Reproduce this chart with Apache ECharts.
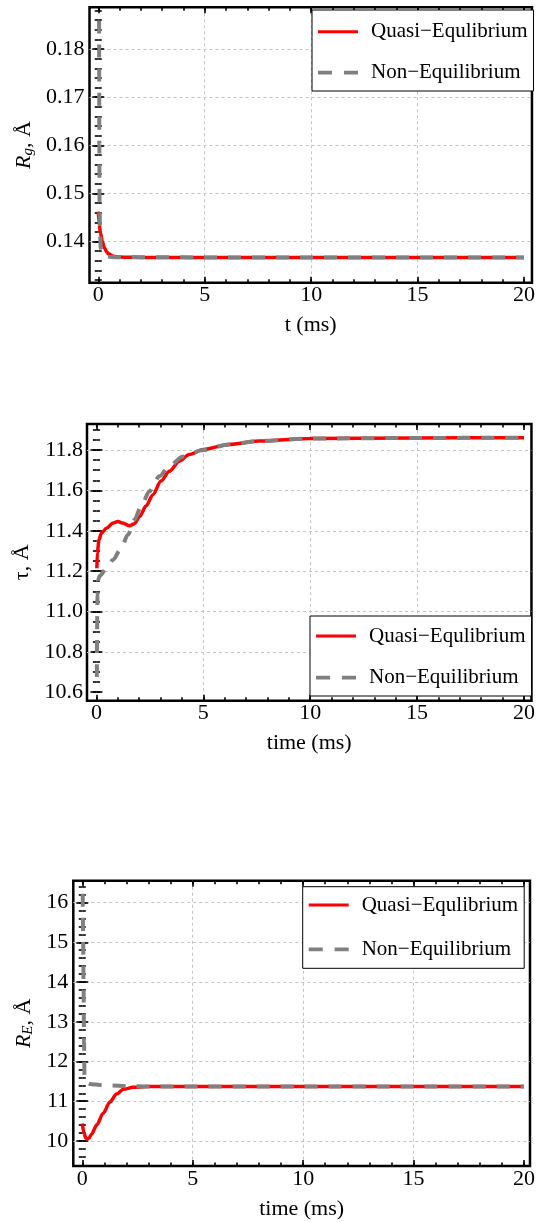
<!DOCTYPE html>
<html><head><meta charset="utf-8">
<script src="https://cdn.jsdelivr.net/npm/echarts@6/dist/echarts.min.js"></script>
<style>html,body{margin:0;padding:0;background:#fff}#c{width:538px;height:1222px}</style>
</head><body><div id="c"></div>
<script>
// ---------------- data ----------------
const xTickLabels = [0, 5, 10, 15, 20];
const xGridLines = [5, 10, 15];
const seriesNames = ['Quasi\u2212Equlibrium', 'Non\u2212Equilibrium'];

// Panel 1 : R_g
const rgQuasiT = [0, 0.05, 0.1, 0.2, 0.3, 0.4, 0.5, 0.7, 1.0, 1.5, 2, 5, 10, 15, 20];
const rgQuasiV = [0.1462, 0.1435, 0.1418, 0.1398, 0.1386, 0.1378, 0.1374, 0.13695, 0.13677, 0.13672, 0.1367, 0.1367, 0.1367, 0.1367, 0.1367];
const rgNonT = [0.04, 0.05, 0.06, 0.08, 0.12, 0.2, 0.35, 0.6, 1.0, 5, 10, 15, 20];
const rgNonV = [0.1859, 0.160, 0.148, 0.1415, 0.1385, 0.1374, 0.13695, 0.13678, 0.13672, 0.1367, 0.1367, 0.1367, 0.1367];
const rgYTicks = [0.14, 0.15, 0.16, 0.17, 0.18];
const rgYGridLines = [0.14, 0.15, 0.16, 0.17, 0.18];

// Panel 2 : tau
const tauQuasiT = [0.02, 0.04, 0.12, 0.23, 0.47, 0.78, 1.0, 1.24, 1.55, 1.78, 2.02, 2.33, 2.64, 3.02, 3.41, 3.88, 4.34, 5.0, 6.2, 7.6, 10, 15, 20];
const tauQuasiV = [11.214, 11.289, 11.355, 11.388, 11.413, 11.438, 11.446, 11.438, 11.425, 11.435, 11.471, 11.524, 11.579, 11.646, 11.695, 11.745, 11.778, 11.803, 11.828, 11.845, 11.857, 11.86, 11.861];
const tauNonT = [0.02, 0.03, 0.05, 0.08, 0.15, 0.47, 0.78, 1.16, 1.47, 1.78, 2.09, 2.48, 2.95, 3.41, 4.03, 5.0, 6.2, 7.6, 10, 15, 20];
const tauNonV = [10.675, 10.9, 11.08, 11.156, 11.176, 11.214, 11.256, 11.314, 11.38, 11.455, 11.521, 11.596, 11.67, 11.72, 11.767, 11.8, 11.828, 11.845, 11.857, 11.86, 11.861];
const tauYTicks = [10.6, 10.8, 11.0, 11.2, 11.4, 11.6, 11.8];
const tauYGridLines = [10.8, 11.0, 11.2, 11.4, 11.6, 11.8];

// Panel 3 : R_E
const reQuasiT = [0, 0.08, 0.15, 0.22, 0.3, 0.42, 0.65, 0.95, 1.25, 1.55, 1.86, 2.3, 2.9, 4, 10, 15, 20];
const reQuasiV = [10.44, 10.2, 10.08, 10.05, 10.07, 10.17, 10.40, 10.70, 10.98, 11.18, 11.30, 11.35, 11.37, 11.37, 11.37, 11.37, 11.37];
const reNonT = [0.02, 0.04, 0.06, 0.08, 0.1, 0.13, 0.2, 0.4, 0.8, 1.3, 2, 3, 10, 15, 20];
const reNonV = [16.22, 15.0, 13.8, 12.5, 11.62, 11.5, 11.46, 11.43, 11.41, 11.395, 11.38, 11.37, 11.37, 11.37, 11.37];
const reYTicks = [10, 11, 12, 13, 14, 15, 16];
const reYGridLines = [10, 11, 12, 13, 14, 15, 16];

// ---------------- helpers ----------------
const FONT = 'Liberation Serif';
function steps(a, b, s) { const o = []; for (let v = a; v <= b + s * 1e-6; v += s) o.push(+v.toFixed(6)); return o; }
function pairs(t, v) { return t.map((x, i) => [x, v[i]]); }

function axesFor(dim, gi, min, max, majors, minors, gridVals, cfg) {
  const isX = dim === 'x';
  const pos1 = isX ? 'bottom' : 'left', pos2 = isX ? 'top' : 'right';
  const base = { type: 'value', gridIndex: gi, min: min, max: max, axisLine: { show: false },
    splitLine: { show: false }, axisLabel: { show: false }, axisTick: { show: false } };
  const tick = (vals, len) => ({ show: true, inside: true, length: len, customValues: vals, lineStyle: { color: '#000', width: 1.6 } });
  const main = Object.assign({}, base, {
    position: pos1,
    axisTick: tick(majors, 6),
    axisLabel: { show: true, customValues: majors, margin: cfg.margin, color: '#000', fontFamily: FONT, fontSize: 22, formatter: cfg.fmt },
    name: cfg.name, nameLocation: 'middle', nameGap: cfg.nameGap, nameRotate: isX ? 0 : 90,
    nameTextStyle: cfg.nameStyle
  });
  return [
    main,
    Object.assign({}, base, { position: pos1, axisTick: tick(minors, 3.5) }),
    Object.assign({}, base, { position: pos2, axisTick: tick(majors, 6) }),
    Object.assign({}, base, { position: pos2, axisTick: tick(minors, 3.5) }),
    Object.assign({}, base, { position: pos1, axisTick: { show: false, customValues: gridVals },
      splitLine: { show: true, lineStyle: { color: '#c4c4c4', width: 1, type: [3, 3] } } })
  ];
}

const nameRich = {
  i: { fontFamily: FONT, fontSize: 22, fontStyle: 'italic', color: '#000', lineHeight: 22 },
  s: { fontFamily: FONT, fontSize: 15, fontStyle: 'italic', color: '#000', lineHeight: 12, verticalAlign: 'bottom' },
  n: { fontFamily: FONT, fontSize: 22, color: '#000', lineHeight: 22 }
};
const xNameStyle = { fontFamily: FONT, fontSize: 22, color: '#000' };
const yNameStyle = { fontFamily: FONT, fontSize: 22, color: '#000', rich: nameRich };

const panels = [
  { grid: { left: 89.5, top: 7.3, width: 444.5, height: 275.4 }, xr: [-0.4115, 20.374], yr: [0.13144, 0.18867],
    yMajors: rgYTicks, yMinors: steps(0.132, 0.188, 0.002), yGrid: rgYGridLines, yfmt: v => v.toFixed(2),
    xName: 't (ms)', yName: '{i|R}{s|g}{n|, \u00C5}', yGap: 48, yMargin: 5,
    q: pairs(rgQuasiT, rgQuasiV), ne: pairs(rgNonT, rgNonV),
    legend: { left: 312, top: 10, itemGap: 17, padding: [9.7, 6, 6.3, 6] } },
  { grid: { left: 87, top: 424, width: 447.5, height: 276.7 }, xr: [-0.441, 20.349], yr: [10.558, 11.929],
    yMajors: tauYTicks, yMinors: steps(10.6, 11.9, 0.05), yGrid: tauYGridLines, yfmt: v => v.toFixed(1),
    xName: 'time (ms)', yName: '{n|\u03C4, \u00C5}', yGap: 52, yMargin: 4,
    q: pairs(tauQuasiT, tauQuasiV), ne: pairs(tauNonT, tauNonV),
    legend: { left: 310, top: 616, itemGap: 17.7, padding: [8, 6, 6.3, 6] } },
  { grid: { left: 73.3, top: 880.7, width: 457.7, height: 285.3 }, xr: [-0.4066, 20.271], yr: [9.37, 16.55],
    yMajors: reYTicks, yMinors: steps(9.6, 16.4, 0.2), yGrid: reYGridLines, yfmt: v => String(v),
    xName: 'time (ms)', yName: '{i|R}{s|E}{n|, \u00C5}', yGap: 29, yMargin: 5,
    q: pairs(reQuasiT, reQuasiV), ne: pairs(reNonT, reNonV),
    legend: { left: 302.7, top: 886.7, itemGap: 20.3, padding: [6.3, 6, 7, 6] } }
];

const option = { animation: false, backgroundColor: '#fff', textStyle: { fontFamily: FONT },
  grid: [], xAxis: [], yAxis: [], series: [], legend: [] };

panels.forEach((p, gi) => {
  option.grid.push(Object.assign({ show: true, borderColor: '#000', borderWidth: 2.5, backgroundColor: 'transparent' }, p.grid));
  const xa = axesFor('x', gi, p.xr[0], p.xr[1], xTickLabels, steps(0, 20, 1), xGridLines,
    { margin: 2, fmt: v => String(v), name: p.xName, nameGap: 32, nameStyle: xNameStyle });
  const ya = axesFor('y', gi, p.yr[0], p.yr[1], p.yMajors, p.yMinors, p.yGrid,
    { margin: p.yMargin, fmt: p.yfmt, name: p.yName, nameGap: p.yGap, nameStyle: yNameStyle });
  const xi = option.xAxis.length, yi = option.yAxis.length;
  option.xAxis.push(...xa); option.yAxis.push(...ya);
  option.series.push({ name: seriesNames[0], type: 'line', xAxisIndex: xi, yAxisIndex: yi, data: p.q,
    showSymbol: false, symbol: 'none', smooth: 0.3, smoothMonotone: 'x',
    lineStyle: { color: '#ff0000', width: 3.5 }, itemStyle: { color: '#ff0000' }, z: 3 });
  option.series.push({ name: seriesNames[1], type: 'line', xAxisIndex: xi, yAxisIndex: yi, data: p.ne,
    showSymbol: false, symbol: 'none', smooth: 0.3, smoothMonotone: 'x',
    lineStyle: { color: '#808080', width: 4, type: [13, 11], cap: 'butt' }, itemStyle: { color: '#808080' }, z: 4 });
  option.legend.push(Object.assign({ orient: 'vertical', itemWidth: 40, itemHeight: 24, selectedMode: false,
    borderColor: '#000', borderWidth: 1, backgroundColor: '#fff', borderRadius: 0, symbolKeepAspect: true,
    textStyle: { fontFamily: FONT, fontSize: 21, color: '#000', lineHeight: 24, padding: [0, 0, 0, 8] },
    data: [
      { name: seriesNames[0], icon: 'path://M0,0H40V3H0Z', itemStyle: { color: '#ff0000', borderWidth: 0, opacity: 1 } },
      { name: seriesNames[1], icon: 'path://M0,0H13V3.5H0ZM24,0H37V3.5H24Z', itemStyle: { color: '#808080', borderWidth: 0, opacity: 1 } }
    ] }, p.legend));
});

const chart = echarts.init(document.getElementById('c'), null, { renderer: 'canvas' });
chart.setOption(option);
</script></body></html>
